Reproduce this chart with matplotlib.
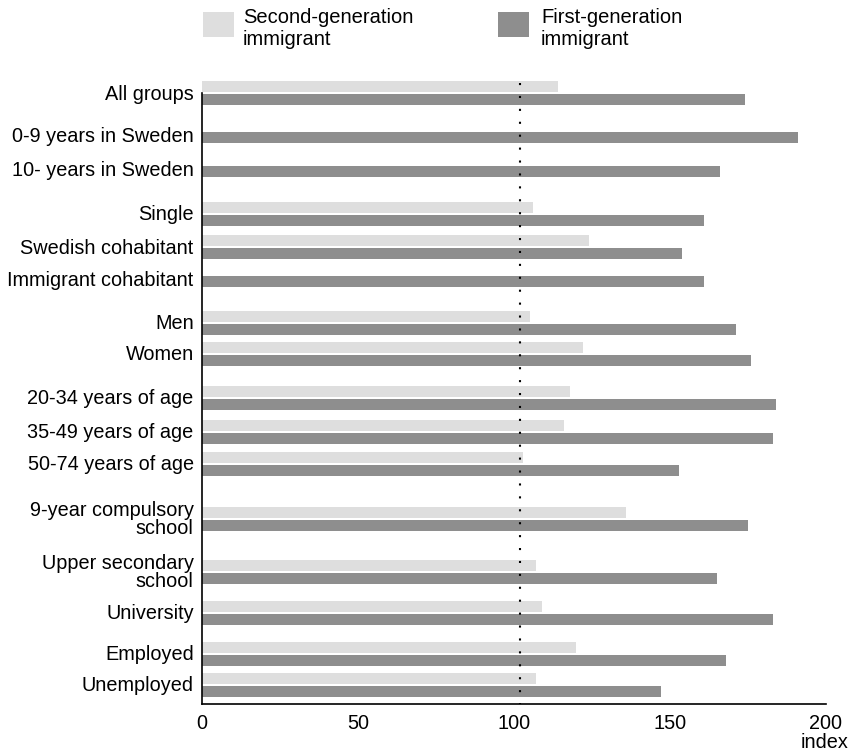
import numpy as np
import matplotlib
matplotlib.use("Agg")
import matplotlib.pyplot as plt
from matplotlib.patches import Rectangle

plt.rcParams['font.family'] = ['Liberation Sans', 'DejaVu Sans']

# data
categories = [
    "All groups", "0-9 years in Sweden", "10- years in Sweden",
    "Single", "Swedish cohabitant", "Immigrant cohabitant",
    "Men", "Women",
    "20-34 years of age", "35-49 years of age", "50-74 years of age",
    "9-year compulsory\nschool", "Upper secondary\nschool", "University",
    "Employed", "Unemployed",
]
second_gen = [114, None, None, 106, 124, None, 105, 122, 118, 116, 103, 136, 107, 109, 120, 107]
first_gen = [174, 191, 166, 161, 154, 161, 171, 176, 184, 183, 153, 175, 165, 183, 168, 147]
x_ticks = [0, 50, 100, 150, 200]

# layout (row centres, in pixel-like units from the top of the figure)
row_y = [93, 131, 165, 214, 247, 275, 323, 354, 398, 432, 464, 519, 572, 613, 654, 685]
bar_h = 11
light = "#dedede"
dark = "#8e8e8e"

W, H = 850, 756
fig = plt.figure(figsize=(W / 100, H / 100), dpi=100)
ax_left, ax_right = 202, 826
ax_top, ax_bottom = 75, 704
ax = fig.add_axes([ax_left / W, (H - ax_bottom) / H, (ax_right - ax_left) / W, (ax_bottom - ax_top) / H])

row_y = np.array(row_y, dtype=float)
sec = np.array([np.nan if v is None else v for v in second_gen], dtype=float)
fst = np.array(first_gen, dtype=float)

has_sec = ~np.isnan(sec)
ax.barh(row_y[has_sec] - bar_h / 2 - 0.6, sec[has_sec], height=bar_h, color=light, linewidth=0)
ax.barh(row_y + bar_h / 2 + 0.6, fst, height=bar_h, color=dark, linewidth=0)

# reference line at index 100 (drawn where the source puts it)
ax.plot([102, 102], [83, ax_bottom], color="black", linewidth=1.5,
        linestyle=(0, (1, 5.2)), dash_capstyle="butt", zorder=3)

ax.set_xlim(0, 200)
ax.set_ylim(ax_bottom, ax_top)

label_y = [y - 1 if s else y + 4 for y, s in zip(row_y, has_sec)]
ax.set_yticks(label_y)
ax.set_yticklabels(categories, fontsize=14.3, linespacing=0.95)
ax.set_xticks(x_ticks)
ax.set_xticklabels([str(t) for t in x_ticks], fontsize=14.3)
ax.tick_params(axis="both", length=0)
ax.tick_params(axis="y", pad=6)
ax.tick_params(axis="x", pad=7)

for s in ["top", "right"]:
    ax.spines[s].set_visible(False)
ax.spines["left"].set_bounds(93, ax_bottom)
ax.spines["left"].set_linewidth(1.2)
ax.spines["bottom"].set_linewidth(1.2)


def fx(px):
    return px / W


def fy(py):
    return (H - py) / H


# legend
fig.add_artist(Rectangle((fx(203), fy(37)), 31 / W, 25 / H, transform=fig.transFigure, color=light, linewidth=0))
fig.text(fx(243), fy(8), "Second-generation\nimmigrant", fontsize=14.5, va="top", ha="left", linespacing=1.2)
fig.add_artist(Rectangle((fx(498), fy(37)), 31 / W, 25 / H, transform=fig.transFigure, color=dark, linewidth=0))
fig.text(fx(541), fy(8), "First-generation\nimmigrant", fontsize=14.5, va="top", ha="left", linespacing=1.2)

fig.text(fx(848), fy(743), "index", fontsize=14.3, ha="right", va="center")

fig.savefig("out.png", dpi=100)
